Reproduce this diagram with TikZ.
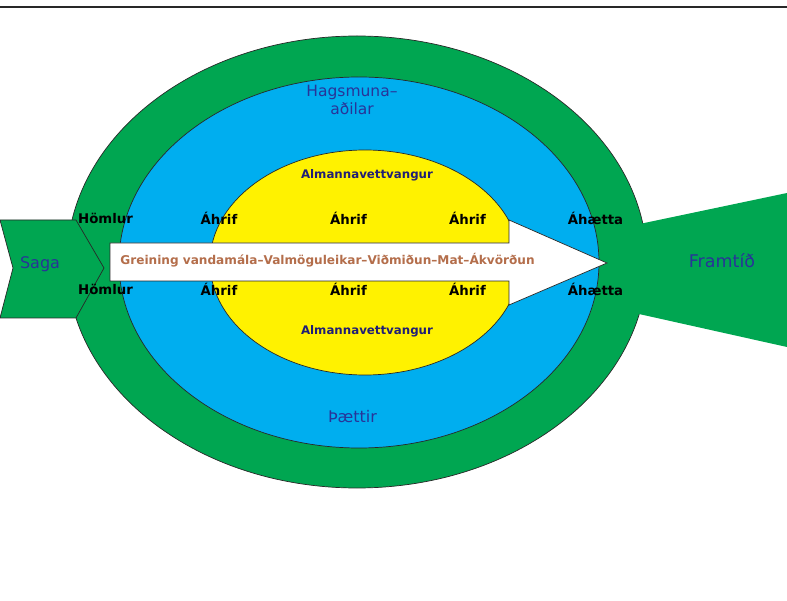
\documentclass[tikz,border=0pt]{standalone}
\usepackage{fontspec}
\setmainfont{DejaVu Sans}
\definecolor{ringgreen}{RGB}{0,166,81}
\definecolor{ringblue}{RGB}{0,174,239}
\definecolor{ringyellow}{RGB}{255,242,0}
\definecolor{labelblue}{RGB}{40,52,152}
\definecolor{labelnavy}{RGB}{32,30,118}
\definecolor{pathbrown}{RGB}{180,110,75}
\definecolor{edgegray}{RGB}{40,40,40}
\tikzset{
  ring/.style={draw=edgegray, line width=0.7pt},
  outerlabel/.style={text=labelblue, font=\fontsize{16}{18}\selectfont},
  publiclabel/.style={text=labelnavy, font=\bfseries\fontsize{11.8}{13}\selectfont},
  factorlabel/.style={text=black, font=\bfseries\fontsize{13.3}{15}\selectfont},
}
\begin{document}
\begin{tikzpicture}[x=1pt,y=-1pt]
    \useasboundingbox (0,0) rectangle (787,601);
    % Top rule
    \draw[edgegray, line width=1.2pt] (0,7) -- (787,7);

    % Rings
    \filldraw[ring, fill=ringgreen]  (357,262) ellipse (290pt and 226pt);
    \filldraw[ring, fill=ringblue]   (359,262.5) ellipse (240pt and 185.5pt);
    \filldraw[ring, fill=ringyellow] (365,262.5) ellipse (155pt and 112.5pt);

    % Past and future
    \fill[ringgreen] (630,226) -- (787,193) -- (787,347) -- (630,312) -- cycle;
    \filldraw[ring, fill=ringgreen] (0,220) -- (76,220) -- (104,268) -- (76,318) -- (0,318) -- (13,268) -- cycle;

    % Process arrow
    \filldraw[ring, fill=white] (110,243) -- (509,243) -- (509,220) -- (607,263)
        -- (509,305) -- (509,281) -- (110,281) -- cycle;
    \node[text=pathbrown, font=\bfseries\fontsize{12.1}{14}\selectfont] (process) at (327.5,260)
        {Greining vandamála–Valmöguleikar–Viðmiðun–Mat–Ákvörðun};

    % Labels
    \node[outerlabel] (saga) at (40,264) {Saga};
    \node[outerlabel, font=\fontsize{17.5}{19}\selectfont] (framtid) at (722,261) {Framtíð};
    \node[outerlabel, align=center, font=\fontsize{15.5}{18}\selectfont] (hagsmunir) at (352,100) {Hagsmuna–\\aðilar};
    \node[outerlabel] (thaettir) at (352.5,417) {Þættir};
    \node[publiclabel] (almtop) at (367,175) {Almannavettvangur};
    \node[publiclabel] (almbot) at (367,331) {Almannavettvangur};

    \foreach \y/\s in {218/t, 289/b} {
        \node[factorlabel] (homlur\s) at (105.5,\y) {Hömlur};
        \node[factorlabel] (ahrifa\s) at (219,\y) {Áhrif};
        \node[factorlabel] (ahrifb\s) at (348.5,\y) {Áhrif};
        \node[factorlabel] (ahrifc\s) at (467.5,\y) {Áhrif};
        \node[factorlabel] (ahaetta\s) at (595.5,\y) {Áhætta};
    }
\end{tikzpicture}
\end{document}
